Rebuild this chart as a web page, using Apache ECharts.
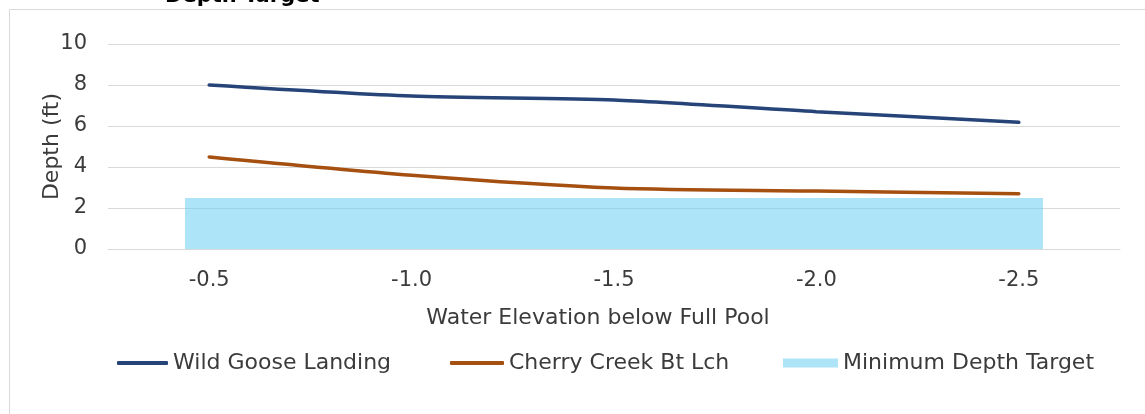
<!DOCTYPE html>
<html>
<head>
<meta charset="utf-8">
<title>Water depth vs. elevation</title>
<script src="https://cdn.jsdelivr.net/npm/echarts@6/dist/echarts.min.js"></script>
<style>
  html, body { margin: 0; padding: 0; background: #ffffff; }
  #chart { width: 1145px; height: 414px; }
</style>
</head>
<body>
<div id="chart"></div>
<script>
// Water elevation below full pool (ft)
const categories = ['-0.5', '-1.0', '-1.5', '-2.0', '-2.5'];

// Depth at each site (ft)
const wildGooseLanding = [8.0, 7.46, 7.27, 6.7, 6.18];
const cherryCreekBtLch = [4.49, 3.6, 2.98, 2.83, 2.7];
const minimumDepthTarget = [2.5, 2.5, 2.5, 2.5, 2.5];

// Depth axis
const depthMin = 0;
const depthMax = 10;
const depthStep = 2;

const textColor = '#3b3b3b';
const gridColor = '#d9d9d9';
const fontFamily = '"DejaVu Sans", "Liberation Sans", Arial, sans-serif';

const chart = echarts.init(document.getElementById('chart'), null, { renderer: 'canvas' });

// Target band: one rectangle per category, the outer ends pulled in past the first/last point.
// Edges are snapped to whole pixels so neighbouring rectangles meet without seams.
const bandOverhang = 0.118;
function renderBand(params, api) {
  const i = api.value(0);
  const n = categories.length;
  const top = api.coord([i, api.value(1)]);
  const base = api.coord([i, 0]);
  const w = api.size([1, 0])[0];
  const left = Math.round(i === 0 ? top[0] - w * bandOverhang : top[0] - w / 2);
  const right = Math.round(i === n - 1 ? top[0] + w * bandOverhang : top[0] + w / 2);
  const y0 = Math.round(top[1]);
  const y1 = Math.round(base[1]);
  return {
    type: 'rect',
    shape: { x: left, y: y0, width: right - left, height: y1 - y0 },
    style: { fill: api.visual('color') }
  };
}

const legendText = { color: textColor, fontSize: 22, fontFamily: fontFamily };

chart.setOption({
  animation: false,
  backgroundColor: '#ffffff',
  graphic: [
    {
      type: 'rect',
      silent: true,
      z: -10,
      shape: { x: 9.5, y: 9.5, width: 2000, height: 2000 },
      style: { fill: 'none', stroke: gridColor, lineWidth: 1 }
    },
    {
      type: 'text',
      left: 165,
      top: -14,
      style: {
        text: 'Depth Target',
        fill: '#000000',
        font: 'bold 21px ' + fontFamily
      }
    }
  ],
  grid: { left: 108, right: 25, top: 44, bottom: 165, containLabel: false },
  legend: [
    {
      left: 112, top: 347,
      itemWidth: 51, itemHeight: 4, icon: 'roundRect',
      textStyle: legendText,
      data: ['Wild Goose Landing']
    },
    {
      left: 445, top: 347,
      itemWidth: 54, itemHeight: 4, icon: 'roundRect',
      textStyle: legendText,
      data: ['Cherry Creek Bt Lch']
    },
    {
      left: 778, top: 347,
      itemWidth: 55, itemHeight: 9, icon: 'rect',
      textStyle: legendText,
      data: ['Minimum Depth Target']
    }
  ],
  xAxis: {
    type: 'category',
    data: categories,
    boundaryGap: true,
    name: 'Water Elevation below Full Pool',
    nameLocation: 'middle',
    nameGap: 58,
    nameMoveOverlap: false,
    nameTextStyle: { color: textColor, fontSize: 22, fontFamily: fontFamily, padding: [0, 32, 0, 0] },
    axisLine: { show: true, lineStyle: { color: gridColor, width: 1 } },
    axisTick: { show: false },
    axisLabel: { color: textColor, fontSize: 21, fontFamily: fontFamily, margin: 21 },
    splitLine: { show: false }
  },
  yAxis: {
    type: 'value',
    min: depthMin,
    max: depthMax,
    interval: depthStep,
    name: 'Depth (ft)',
    nameLocation: 'middle',
    nameGap: 45,
    nameMoveOverlap: false,
    nameTextStyle: { color: textColor, fontSize: 22, fontFamily: fontFamily },
    axisLine: { show: false },
    axisTick: { show: false },
    axisLabel: { color: textColor, fontSize: 21, fontFamily: fontFamily, margin: 21 },
    splitLine: { show: true, lineStyle: { color: gridColor, width: 1 } }
  },
  series: [
    {
      name: 'Minimum Depth Target',
      type: 'custom',
      renderItem: renderBand,
      itemStyle: { color: 'rgba(106, 206, 240, 0.55)' },
      encode: { x: 0, y: 1 },
      data: minimumDepthTarget.map((v, i) => [i, v]),
      z: 1
    },
    {
      name: 'Wild Goose Landing',
      type: 'line',
      data: wildGooseLanding,
      smooth: 0.25,
      showSymbol: false,
      symbol: 'none',
      lineStyle: { color: '#264478', width: 3.5, cap: 'round' },
      itemStyle: { color: '#264478' },
      z: 3
    },
    {
      name: 'Cherry Creek Bt Lch',
      type: 'line',
      data: cherryCreekBtLch,
      smooth: 0.3,
      showSymbol: false,
      symbol: 'none',
      lineStyle: { color: '#a54f10', width: 3.5, cap: 'round' },
      itemStyle: { color: '#a54f10' },
      z: 3
    }
  ]
});
</script>
</body>
</html>
